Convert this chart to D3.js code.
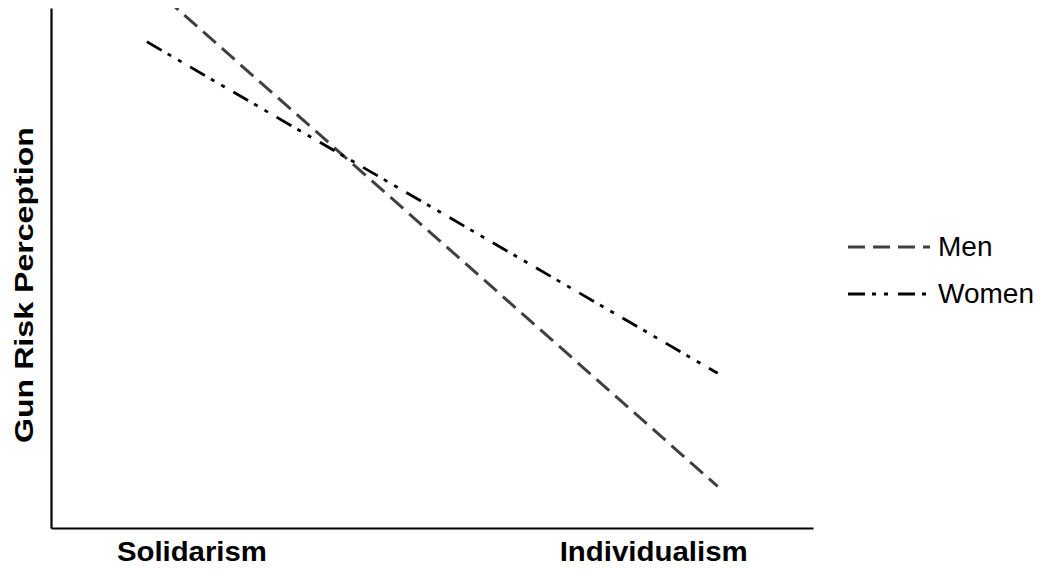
<!DOCTYPE html>
<html>
<head>
<meta charset="utf-8">
<script src="https://cdn.jsdelivr.net/npm/d3@7"></script>
<style>
  html, body { margin: 0; padding: 0; background: #fff; }
  svg { display: block; font-family: "Liberation Sans", Arial, sans-serif; }
</style>
</head>
<body>
<svg id="chart" width="1046" height="571"></svg>
<script>
// ---- data ----
const xLevels = [-1, 1];                      // low / high worldview
const xLabels = ["Solidarism", "Individualism"];
const seriesNames = ["Men", "Women"];
const menValues = [5.20, 1.32];
const womenValues = [4.74, 2.19];
const yTitle = "Gun Risk Perception";

// ---- layout ----
const plotLeft = 51, plotRight = 813, plotTop = 8, plotBottom = 528;

const svg = d3.select("#chart");

const x = d3.scaleLinear().domain([-1.336, 1.334]).range([plotLeft, plotRight]);
const y = d3.scaleLinear().domain([1, 5]).range([plotBottom, plotTop]);

const styles = {
  Men:   { stroke: "#404040", width: 3,   dash: "17,8" },
  Women: { stroke: "#000000", width: 2.8, dash: "17,7,4,8,4,10" }
};

svg.append("clipPath").attr("id", "plotclip")
  .append("rect").attr("x", plotLeft).attr("y", plotTop)
  .attr("width", plotRight - plotLeft).attr("height", plotBottom - plotTop);

const series = [
  { name: seriesNames[0], values: menValues },
  { name: seriesNames[1], values: womenValues }
];

const line = d3.line()
  .x((d, i) => x(xLevels[i]))
  .y(d => y(d));

svg.append("g").attr("clip-path", "url(#plotclip)")
  .selectAll("path").data(series).join("path")
  .attr("d", d => line(d.values))
  .attr("fill", "none")
  .attr("stroke", d => styles[d.name].stroke)
  .attr("stroke-width", d => styles[d.name].width)
  .attr("stroke-dasharray", d => styles[d.name].dash);

// axes (no ticks)
const xAxis = d3.axisBottom(x).tickValues([]).tickSizeOuter(0);
const yAxis = d3.axisLeft(y).tickValues([]).tickSizeOuter(0);
const gx = svg.append("g").attr("transform", `translate(0,${plotBottom})`).call(xAxis);
const gy = svg.append("g").attr("transform", `translate(${plotLeft},0)`).call(yAxis);
[gx, gy].forEach(g => g.select(".domain").attr("stroke", "#000").attr("stroke-width", 2.2));

// x category labels
const labelLen = [150, 188];
svg.append("g").selectAll("text").data(xLabels).join("text")
  .attr("x", (d, i) => i === 0 ? x(xLevels[i]) - 30 : x(xLevels[i]) + 30)
  .attr("y", 561)
  .attr("text-anchor", (d, i) => i === 0 ? "start" : "end")
  .attr("font-weight", "bold")
  .attr("font-size", 27)
  .attr("textLength", (d, i) => labelLen[i])
  .attr("lengthAdjust", "spacingAndGlyphs")
  .attr("fill", "#000")
  .text(d => d);

// y title
svg.append("text")
  .attr("transform", `translate(33,${(127 + 443) / 2}) rotate(-90)`)
  .attr("text-anchor", "middle")
  .attr("font-weight", "bold")
  .attr("font-size", 26)
  .attr("textLength", 316)
  .attr("lengthAdjust", "spacingAndGlyphs")
  .attr("fill", "#000")
  .text(yTitle);

// legend
const lg = svg.append("g");
const legY = [247, 294];
series.forEach((s, i) => {
  lg.append("line")
    .attr("x1", 848).attr("x2", 930)
    .attr("y1", legY[i]).attr("y2", legY[i])
    .attr("stroke", styles[s.name].stroke)
    .attr("stroke-width", styles[s.name].width)
    .attr("stroke-dasharray", styles[s.name].dash);
  lg.append("text")
    .attr("x", 938).attr("y", legY[i] + 9)
    .attr("font-size", 28)
    .attr("fill", "#000")
    .text(s.name);
});
</script>
</body>
</html>
